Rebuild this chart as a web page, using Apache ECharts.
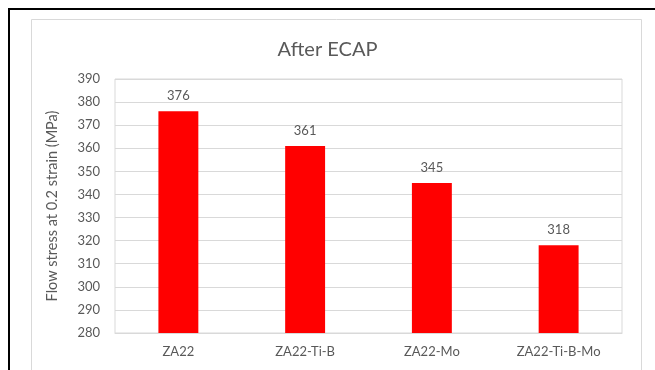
<!DOCTYPE html>
<html>
<head>
<meta charset="utf-8">
<script src="https://cdn.jsdelivr.net/npm/echarts@6/dist/echarts.min.js"></script>
<style>
  html, body { margin: 0; padding: 0; background: #ffffff; }
  #chart { width: 655px; height: 370px; }
</style>
</head>
<body>
<div id="chart"></div>
<script>
// Alloy categories and flow stress after ECAP (MPa)
const categories = ['ZA22', 'ZA22-Ti-B', 'ZA22-Mo', 'ZA22-Ti-B-Mo'];
const flowStress = [376, 361, 345, 318];
const yTicks = { min: 280, max: 390, step: 10 };

const textColor = '#595959';
const fontFamily = 'Lato, "Open Sans", sans-serif';

const chart = echarts.init(document.getElementById('chart'), null, { renderer: 'canvas' });

chart.setOption({
  backgroundColor: '#ffffff',
  animation: false,
  title: {
    text: 'After ECAP',
    left: 'center',
    top: 35,
    textStyle: { color: textColor, fontFamily, fontSize: 20, fontWeight: 'normal' }
  },
  graphic: [
    // light outer chart border
    { type: 'rect', shape: { x: 31.5, y: 19.5, width: 610, height: 400 },
      style: { fill: 'none', stroke: '#d9d9d9', lineWidth: 1 }, silent: true },
    // dark frame along top and left
    { type: 'line', shape: { x1: 8, y1: 9, x2: 655, y2: 9 },
      style: { stroke: '#000000', lineWidth: 2 }, silent: true },
    { type: 'line', shape: { x1: 9, y1: 8, x2: 9, y2: 370 },
      style: { stroke: '#000000', lineWidth: 2 }, silent: true }
  ],
  grid: {
    left: 115, right: 33, top: 79, bottom: 37,
    show: true, borderColor: '#d9d9d9', borderWidth: 1,
    containLabel: false
  },
  xAxis: {
    type: 'category',
    data: categories,
    axisLine: { show: true, lineStyle: { color: '#d9d9d9' } },
    axisTick: { show: false },
    axisLabel: { color: textColor, fontFamily, fontSize: 13, margin: 12 }
  },
  yAxis: {
    type: 'value',
    min: yTicks.min, max: yTicks.max, interval: yTicks.step,
    name: 'Flow stress at 0.2 strain (MPa)',
    nameLocation: 'middle',
    nameGap: 55,
    nameTextStyle: { color: textColor, fontFamily, fontSize: 14.5 },
    axisLine: { show: false },
    axisTick: { show: false },
    axisLabel: { color: textColor, fontFamily, fontSize: 13, margin: 15 },
    splitLine: { lineStyle: { color: '#d9d9d9', width: 1 } }
  },
  series: [{
    type: 'bar',
    data: flowStress,
    barWidth: '31.5%',
    itemStyle: { color: '#ff0000' },
    label: {
      show: true, position: 'top', distance: 9,
      color: textColor, fontFamily, fontSize: 13
    }
  }]
});
</script>
</body>
</html>
